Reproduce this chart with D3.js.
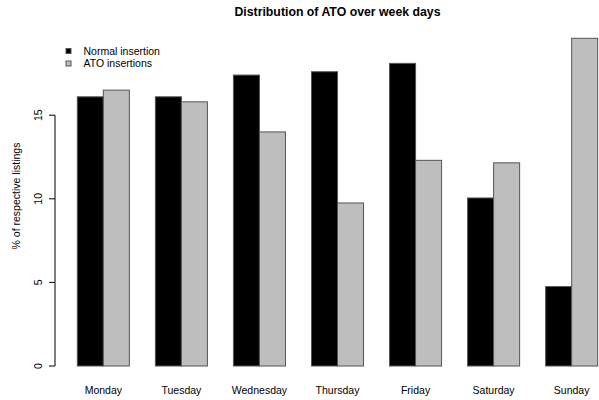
<!DOCTYPE html>
<html>
<head>
<meta charset="utf-8">
<script src="https://cdn.jsdelivr.net/npm/d3@7"></script>
<style>
  html, body { margin: 0; padding: 0; background: #fff; }
  svg { display: block; font-family: "Liberation Sans", Arial, Helvetica, sans-serif; }
</style>
</head>
<body>
<svg id="chart" width="599" height="400"></svg>
<script>
// Share of listings (%) per week day
const days = ["Monday", "Tuesday", "Wednesday", "Thursday", "Friday", "Saturday", "Sunday"];
const seriesNames = ["Normal insertion", "ATO insertions"];
const normalInsertion = [16.1, 16.1, 17.4, 17.6, 18.1, 10.05, 4.75];
const atoInsertions = [16.5, 15.8, 14.0, 9.75, 12.3, 12.15, 19.6];
const yTicks = [0, 5, 10, 15];
const title = "Distribution of ATO over week days";
const yTitle = "% of respective listings";

const colors = ["#000000", "#bebebe"];
const rows = days.map((d, i) => ({ day: d, values: [normalInsertion[i], atoInsertions[i]] }));

const svg = d3.select("#chart");

// Each day: two bars of unit width after a one-unit gap
const x = d3.scaleBand()
  .domain(days)
  .range([51.3, 623.7])
  .paddingInner(1 / 3)
  .paddingOuter(1 / 3);

const xInner = d3.scaleBand()
  .domain(d3.range(seriesNames.length))
  .range([0, x.bandwidth()]);

const y = d3.scaleLinear()
  .domain([0, 20])
  .range([366, 31.6]);

// Bars
const groups = svg.append("g")
  .selectAll("g")
  .data(rows)
  .join("g")
  .attr("transform", d => `translate(${x(d.day)},0)`);

groups.selectAll("rect")
  .data(d => d.values.map((v, k) => ({ v, k })))
  .join("rect")
  .attr("x", d => xInner(d.k))
  .attr("width", xInner.bandwidth())
  .attr("y", d => y(d.v))
  .attr("height", d => y(0) - y(d.v))
  .attr("fill", d => colors[d.k])
  .attr("stroke", "#555")
  .attr("stroke-width", 1);

// Day labels
svg.append("g")
  .selectAll("text")
  .data(days)
  .join("text")
  .attr("x", d => x(d) + x.bandwidth() / 2)
  .attr("y", 390)
  .attr("dy", "0.35em")
  .attr("text-anchor", "middle")
  .attr("font-size", "10.5px")
  .attr("fill", "#000")
  .text(d => d);

// Y axis
const axisX = 55;
const yAxis = svg.append("g");
yAxis.append("line")
  .attr("x1", axisX).attr("x2", axisX)
  .attr("y1", y(yTicks[0])).attr("y2", y(yTicks[yTicks.length - 1]))
  .attr("stroke", "#000");
yAxis.selectAll("line.tick")
  .data(yTicks)
  .join("line")
  .attr("class", "tick")
  .attr("x1", axisX - 6).attr("x2", axisX)
  .attr("y1", d => y(d)).attr("y2", d => y(d))
  .attr("stroke", "#000");
yAxis.selectAll("text")
  .data(yTicks)
  .join("text")
  .attr("transform", d => `translate(41.5,${y(d)}) rotate(-90)`)
  .attr("text-anchor", "middle")
  .attr("font-size", "10.5px")
  .attr("fill", "#000")
  .text(d => d);

// Y axis title
svg.append("text")
  .attr("transform", "translate(19.5,196) rotate(-90)")
  .attr("text-anchor", "middle")
  .attr("font-size", "10.5px")
  .attr("fill", "#000")
  .text(yTitle);

// Chart title
svg.append("text")
  .attr("x", 337.5)
  .attr("y", 16)
  .attr("text-anchor", "middle")
  .attr("font-size", "12.3px")
  .attr("font-weight", "bold")
  .attr("fill", "#000")
  .text(title);

// Legend
const legend = svg.append("g")
  .selectAll("g")
  .data(seriesNames)
  .join("g")
  .attr("transform", (d, i) => `translate(66,${51 + i * 12.5})`);
legend.append("rect")
  .attr("x", 0).attr("y", -2.5)
  .attr("width", 5).attr("height", 5)
  .attr("fill", (d, i) => colors[i])
  .attr("stroke", "#555")
  .attr("stroke-width", 1);
legend.append("text")
  .attr("x", 17.5)
  .attr("y", 0)
  .attr("dy", "0.35em")
  .attr("font-size", "10.5px")
  .attr("fill", "#000")
  .text(d => d);
</script>
</body>
</html>
